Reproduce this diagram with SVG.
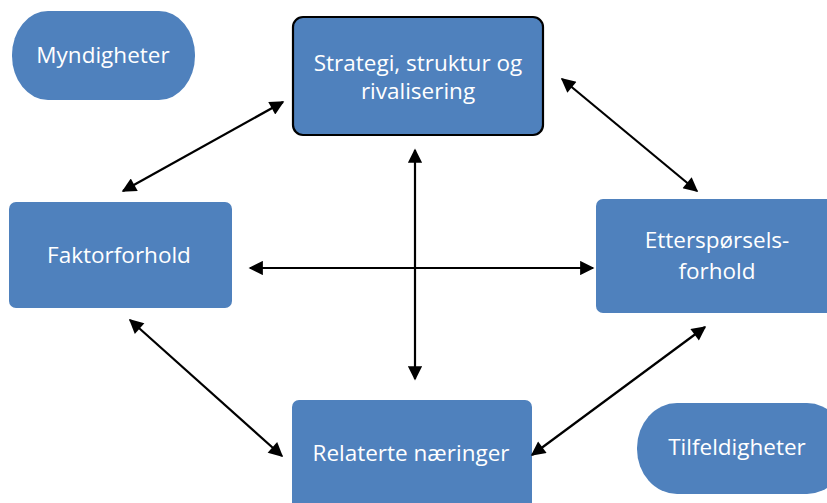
<svg xmlns="http://www.w3.org/2000/svg" width="827" height="503" viewBox="0 0 827 503">
  <style>
    .box { fill: #4F81BD; }
    .outlined { stroke: #000; stroke-width: 2.2; }
    .label { font-family: "Open Sans", "Liberation Sans", sans-serif; font-size: 22.5px; fill: #fff; text-anchor: middle; }
    .link { stroke: #000; stroke-width: 2.2; fill: none; marker-start: url(#head); marker-end: url(#head); }
  </style>
  <defs>
    <marker id="head" viewBox="0 0 10 10" refX="9" refY="5" markerWidth="7.5" markerHeight="6.5" markerUnits="strokeWidth" orient="auto-start-reverse">
      <path d="M0,0 L10,5 L0,10 z" fill="#000"/>
    </marker>
  </defs>

  <rect width="827" height="503" fill="#fff"/>

  <g id="myndigheter">
    <rect class="box" x="12" y="11" width="183" height="89" rx="36" ry="44"/>
    <text class="label" x="103" y="63">Myndigheter</text>
  </g>

  <g id="strategi">
    <rect class="box outlined" x="293" y="17" width="250" height="118" rx="10"/>
    <text class="label" x="418" y="71">Strategi, struktur og</text>
    <text class="label" x="418" y="99">rivalisering</text>
  </g>

  <g id="faktorforhold">
    <rect class="box" x="9" y="202" width="223" height="106" rx="7"/>
    <text class="label" x="119" y="263">Faktorforhold</text>
  </g>

  <g id="etterspoersel">
    <rect class="box" x="596" y="199" width="240" height="114" rx="7"/>
    <text class="label" x="717" y="248">Etterspørsels-</text>
    <text class="label" x="717" y="279">forhold</text>
  </g>

  <g id="relaterte">
    <rect class="box" x="292" y="400" width="240" height="110" rx="7"/>
    <text class="label" x="411" y="461">Relaterte næringer</text>
  </g>

  <g id="tilfeldigheter">
    <rect class="box" x="637" y="403" width="210" height="91" rx="40" ry="45"/>
    <text class="label" x="737" y="455">Tilfeldigheter</text>
  </g>

  <g id="connectors">
    <line class="link" x1="123" y1="191" x2="283" y2="102"/>
    <line class="link" x1="562" y1="79" x2="697" y2="191"/>
    <line class="link" x1="250" y1="268" x2="593" y2="268"/>
    <line class="link" x1="415" y1="150" x2="415" y2="379"/>
    <line class="link" x1="130" y1="320" x2="282" y2="456"/>
    <line class="link" x1="705" y1="327" x2="532" y2="455"/>
  </g>
</svg>
